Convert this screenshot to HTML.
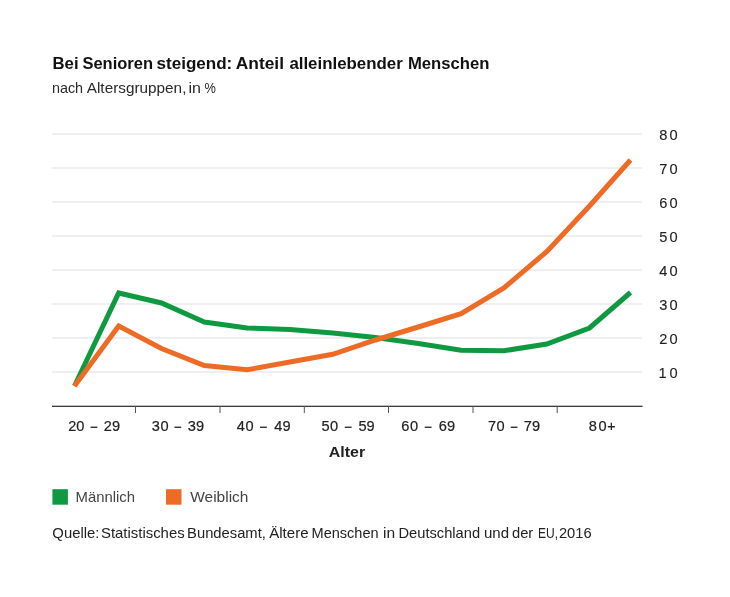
<!DOCTYPE html>
<html><head><meta charset="utf-8"><style>
html,body{margin:0;padding:0;background:#fff;width:730px;height:597px;overflow:hidden}
svg{position:absolute;left:0;top:0;display:block;will-change:transform}
</style></head><body>
<svg width="730" height="597" viewBox="0 0 730 597" font-family="'Liberation Sans', sans-serif">
<rect x="52" y="371.25" width="590" height="1.5" fill="#eaeaea"/><rect x="52" y="337.25" width="590" height="1.5" fill="#eaeaea"/><rect x="52" y="303.25" width="590" height="1.5" fill="#eaeaea"/><rect x="52" y="269.25" width="590" height="1.5" fill="#eaeaea"/><rect x="52" y="235.25" width="590" height="1.5" fill="#eaeaea"/><rect x="52" y="201.25" width="590" height="1.5" fill="#eaeaea"/><rect x="52" y="167.25" width="590" height="1.5" fill="#eaeaea"/><rect x="52" y="133.25" width="590" height="1.5" fill="#eaeaea"/>
<rect x="52" y="405.7" width="590.5" height="1.2" fill="#2a2a2a"/>
<rect x="90.55" y="426.6" width="6.8" height="1.3" fill="#222"/><rect x="174.40" y="426.6" width="6.8" height="1.3" fill="#222"/><rect x="260.05" y="426.6" width="6.8" height="1.3" fill="#222"/><rect x="344.80" y="426.6" width="6.8" height="1.3" fill="#222"/><rect x="424.75" y="426.6" width="6.8" height="1.3" fill="#222"/><rect x="510.70" y="426.6" width="6.8" height="1.3" fill="#222"/>
<rect x="135.0" y="406" width="1" height="7" fill="#555"/><rect x="219.5" y="406" width="1" height="7" fill="#555"/><rect x="303.8" y="406" width="1" height="7" fill="#555"/><rect x="388.0" y="406" width="1" height="7" fill="#555"/><rect x="472.5" y="406" width="1" height="7" fill="#555"/><rect x="556.7" y="406" width="1" height="7" fill="#555"/>
<polyline points="74.5,386.0 118.7,293.0 161.5,303.0 204.3,322.0 247.1,328.0 289.9,329.5 332.7,333.0 375.5,337.5 418.3,343.5 461.1,350.2 503.9,350.8 546.7,344.0 589.5,328.0 630.5,292.5" fill="none" stroke="#0f9a42" stroke-width="5" stroke-linejoin="miter"/>
<polyline points="74.5,386.0 118.7,326.0 161.5,348.5 204.3,365.6 247.1,369.8 289.9,362.0 332.7,354.3 375.5,340.0 418.3,327.0 461.1,313.6 503.9,288.0 546.7,251.6 589.5,206.0 630.5,160.0" fill="none" stroke="#ee6b26" stroke-width="5" stroke-linejoin="miter"/>
<rect x="52.4" y="489.2" width="15.5" height="15.5" fill="#0f9a42"/>
<rect x="166" y="489.2" width="15.5" height="15.5" fill="#ee6b26"/>
<text x="52.54" y="69.20" font-size="17.3" font-weight="bold" fill="#111" textLength="26.00" lengthAdjust="spacingAndGlyphs">Bei</text><text x="82.38" y="69.20" font-size="17.3" font-weight="bold" fill="#111" textLength="70.62" lengthAdjust="spacingAndGlyphs">Senioren</text><text x="156.50" y="69.20" font-size="17.3" font-weight="bold" fill="#111" textLength="75.80" lengthAdjust="spacingAndGlyphs">steigend:</text><text x="235.80" y="69.20" font-size="17.3" font-weight="bold" fill="#111" textLength="48.20" lengthAdjust="spacingAndGlyphs">Anteil</text><text x="289.38" y="69.20" font-size="17.3" font-weight="bold" fill="#111" textLength="113.40" lengthAdjust="spacingAndGlyphs">alleinlebender</text><text x="407.96" y="69.20" font-size="17.3" font-weight="bold" fill="#111" textLength="81.54" lengthAdjust="spacingAndGlyphs">Menschen</text><text x="51.96" y="92.70" font-size="14.3" font-weight="normal" fill="#2a2a2a" textLength="31.16" lengthAdjust="spacingAndGlyphs">nach</text><text x="86.76" y="92.70" font-size="14.3" font-weight="normal" fill="#2a2a2a" textLength="99.66" lengthAdjust="spacingAndGlyphs">Altersgruppen,</text><text x="188.54" y="92.70" font-size="14.3" font-weight="normal" fill="#2a2a2a" textLength="12.50" lengthAdjust="spacingAndGlyphs">in</text><text x="204.38" y="92.70" font-size="14.3" font-weight="normal" fill="#2a2a2a" textLength="11.36" lengthAdjust="spacingAndGlyphs">%</text><text x="658.54" y="377.90" font-size="14.6" font-weight="normal" fill="#222" stroke="#222" stroke-width="0.12" textLength="19.00" lengthAdjust="spacing">10</text><text x="659.34" y="343.90" font-size="14.6" font-weight="normal" fill="#222" stroke="#222" stroke-width="0.12" textLength="18.20" lengthAdjust="spacing">20</text><text x="659.34" y="309.90" font-size="14.6" font-weight="normal" fill="#222" stroke="#222" stroke-width="0.12" textLength="18.20" lengthAdjust="spacing">30</text><text x="659.34" y="275.90" font-size="14.6" font-weight="normal" fill="#222" stroke="#222" stroke-width="0.12" textLength="18.20" lengthAdjust="spacing">40</text><text x="659.34" y="241.90" font-size="14.6" font-weight="normal" fill="#222" stroke="#222" stroke-width="0.12" textLength="18.20" lengthAdjust="spacing">50</text><text x="659.34" y="207.90" font-size="14.6" font-weight="normal" fill="#222" stroke="#222" stroke-width="0.12" textLength="18.20" lengthAdjust="spacing">60</text><text x="659.34" y="173.90" font-size="14.6" font-weight="normal" fill="#222" stroke="#222" stroke-width="0.12" textLength="18.20" lengthAdjust="spacing">70</text><text x="659.34" y="139.90" font-size="14.6" font-weight="normal" fill="#222" stroke="#222" stroke-width="0.12" textLength="18.20" lengthAdjust="spacing">80</text><text x="68.26" y="430.60" font-size="14.6" font-weight="normal" fill="#222" stroke="#222" stroke-width="0.2" textLength="16.02" lengthAdjust="spacing">20</text><text x="103.80" y="430.60" font-size="14.6" font-weight="normal" fill="#222" stroke="#222" stroke-width="0.2" textLength="16.32" lengthAdjust="spacing">29</text><text x="151.80" y="430.60" font-size="14.6" font-weight="normal" fill="#222" stroke="#222" stroke-width="0.2" textLength="16.82" lengthAdjust="spacing">30</text><text x="187.80" y="430.60" font-size="14.6" font-weight="normal" fill="#222" stroke="#222" stroke-width="0.2" textLength="16.32" lengthAdjust="spacing">39</text><text x="236.80" y="430.60" font-size="14.6" font-weight="normal" fill="#222" stroke="#222" stroke-width="0.2" textLength="16.82" lengthAdjust="spacing">40</text><text x="274.26" y="430.60" font-size="14.6" font-weight="normal" fill="#222" stroke="#222" stroke-width="0.2" textLength="16.32" lengthAdjust="spacing">49</text><text x="321.38" y="430.60" font-size="14.6" font-weight="normal" fill="#222" stroke="#222" stroke-width="0.2" textLength="16.82" lengthAdjust="spacing">50</text><text x="358.38" y="430.60" font-size="14.6" font-weight="normal" fill="#222" stroke="#222" stroke-width="0.2" textLength="16.32" lengthAdjust="spacing">59</text><text x="401.30" y="430.60" font-size="14.6" font-weight="normal" fill="#222" stroke="#222" stroke-width="0.2" textLength="16.82" lengthAdjust="spacing">60</text><text x="438.84" y="430.60" font-size="14.6" font-weight="normal" fill="#222" stroke="#222" stroke-width="0.2" textLength="16.32" lengthAdjust="spacing">69</text><text x="487.92" y="430.60" font-size="14.6" font-weight="normal" fill="#222" stroke="#222" stroke-width="0.2" textLength="16.82" lengthAdjust="spacing">70</text><text x="523.80" y="430.60" font-size="14.6" font-weight="normal" fill="#222" stroke="#222" stroke-width="0.2" textLength="16.32" lengthAdjust="spacing">79</text><text x="588.84" y="430.60" font-size="14.6" font-weight="normal" fill="#222" stroke="#222" stroke-width="0.2" textLength="17.74" lengthAdjust="spacing">80</text><text x="607.34" y="430.60" font-size="14.6" font-weight="normal" fill="#222" stroke="#222" stroke-width="0.2" textLength="8.32" lengthAdjust="spacingAndGlyphs">+</text><text x="328.76" y="456.60" font-size="14.2" font-weight="bold" fill="#222" textLength="36.44" lengthAdjust="spacingAndGlyphs">Alter</text><text x="75.54" y="502.30" font-size="14.4" font-weight="normal" fill="#444" textLength="59.54" lengthAdjust="spacingAndGlyphs">Männlich</text><text x="190.26" y="502.30" font-size="14.4" font-weight="normal" fill="#444" textLength="58.20" lengthAdjust="spacingAndGlyphs">Weiblich</text><text x="52.38" y="537.50" font-size="14.5" font-weight="normal" fill="#222" textLength="47.00" lengthAdjust="spacingAndGlyphs">Quelle:</text><text x="100.96" y="537.50" font-size="14.5" font-weight="normal" fill="#222" textLength="83.70" lengthAdjust="spacingAndGlyphs">Statistisches</text><text x="187.12" y="537.50" font-size="14.5" font-weight="normal" fill="#222" textLength="78.76" lengthAdjust="spacingAndGlyphs">Bundesamt,</text><text x="269.22" y="537.50" font-size="14.5" font-weight="normal" fill="#222" textLength="39.36" lengthAdjust="spacingAndGlyphs">Ältere</text><text x="311.54" y="537.50" font-size="14.5" font-weight="normal" fill="#222" textLength="67.08" lengthAdjust="spacingAndGlyphs">Menschen</text><text x="382.96" y="537.50" font-size="14.5" font-weight="normal" fill="#222" textLength="12.12" lengthAdjust="spacingAndGlyphs">in</text><text x="398.50" y="537.50" font-size="14.5" font-weight="normal" fill="#222" textLength="81.58" lengthAdjust="spacingAndGlyphs">Deutschland</text><text x="483.96" y="537.50" font-size="14.5" font-weight="normal" fill="#222" textLength="25.08" lengthAdjust="spacingAndGlyphs">und</text><text x="512.00" y="537.50" font-size="14.5" font-weight="normal" fill="#222" textLength="21.28" lengthAdjust="spacingAndGlyphs">der</text><text x="538.00" y="537.50" font-size="14.5" font-weight="normal" fill="#222" textLength="19.96" lengthAdjust="spacingAndGlyphs">EU,</text><text x="558.92" y="537.50" font-size="14.5" font-weight="normal" fill="#222" textLength="32.70" lengthAdjust="spacingAndGlyphs">2016</text>
</svg>
</body></html>
